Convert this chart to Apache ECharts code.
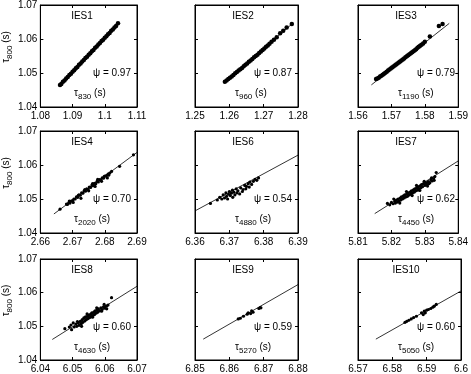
<!DOCTYPE html>
<html>
<head>
<meta charset="utf-8">
<script src="https://cdn.jsdelivr.net/npm/echarts@6/dist/echarts.min.js"></script>
<style>html,body{margin:0;padding:0;background:#fff}#c{width:471px;height:374px}</style>
</head>
<body>
<div id="c"></div>
<script>
const panelNames = ['IES1','IES2','IES3','IES4','IES6','IES7','IES8','IES9','IES10'];
const psiValues = ['0.97','0.87','0.79','0.70','0.54','0.62','0.60','0.59','0.60'];
const tauDepths = ['830','960','1190','2020','4880','4450','4630','5270','5050'];
const xMins = [1.08,1.25,1.56,2.66,6.36,5.81,6.04,6.85,6.57];
const xMaxs = [1.11,1.28,1.59,2.69,6.39,5.84,6.07,6.88,6.60];
const yMin = 1.04, yMax = 1.07, tickStep = 0.01;

const ies1 = [[1.0861,1.0465],[1.0865,1.0468],[1.0870,1.0474],[1.0875,1.0478],[1.0880,1.0484],[1.0885,1.0488],[1.0890,1.0494],[1.0895,1.0498],[1.0900,1.0504],[1.0905,1.0508],[1.0910,1.0514],[1.0915,1.0518],[1.0920,1.0524],[1.0925,1.0528],[1.0930,1.0534],[1.0935,1.0538],[1.0940,1.0544],[1.0945,1.0548],[1.0950,1.0554],[1.0955,1.0558],[1.0960,1.0564],[1.0965,1.0568],[1.0970,1.0574],[1.0975,1.0578],[1.0980,1.0584],[1.0985,1.0588],[1.0990,1.0594],[1.0995,1.0598],[1.1000,1.0604],[1.1005,1.0608],[1.1010,1.0614],[1.1015,1.0618],[1.1020,1.0624],[1.1025,1.0628],[1.1030,1.0634],[1.1035,1.0638],[1.1041,1.0646]];
const ies2 = [[1.2587,1.0474],[1.2592,1.0478],[1.2597,1.0482],[1.2602,1.0486],[1.2607,1.0490],[1.2612,1.0494],[1.2617,1.0499],[1.2622,1.0503],[1.2627,1.0507],[1.2632,1.0511],[1.2637,1.0515],[1.2642,1.0520],[1.2647,1.0524],[1.2652,1.0528],[1.2657,1.0533],[1.2662,1.0537],[1.2667,1.0541],[1.2672,1.0546],[1.2677,1.0550],[1.2682,1.0554],[1.2687,1.0559],[1.2692,1.0563],[1.2697,1.0568],[1.2702,1.0572],[1.2707,1.0577],[1.2712,1.0581],[1.2717,1.0586],[1.2723,1.0592],[1.2730,1.0598],[1.2738,1.0605],[1.2748,1.0617],[1.2757,1.0624],[1.2767,1.0634],[1.2782,1.0644]];
const ies3 = [[1.5654,1.0482],[1.5658,1.0484],[1.5662,1.0486],[1.5666,1.0490],[1.5670,1.0492],[1.5674,1.0495],[1.5678,1.0498],[1.5682,1.0501],[1.5686,1.0504],[1.5690,1.0507],[1.5694,1.0510],[1.5698,1.0513],[1.5702,1.0516],[1.5706,1.0519],[1.5710,1.0522],[1.5714,1.0525],[1.5718,1.0528],[1.5722,1.0531],[1.5726,1.0534],[1.5730,1.0537],[1.5734,1.0540],[1.5738,1.0543],[1.5742,1.0546],[1.5746,1.0549],[1.5750,1.0552],[1.5754,1.0555],[1.5758,1.0558],[1.5762,1.0561],[1.5766,1.0564],[1.5770,1.0567],[1.5774,1.0570],[1.5778,1.0574],[1.5782,1.0577],[1.5786,1.0580],[1.5790,1.0583],[1.5795,1.0587],[1.5800,1.0592],[1.5815,1.0607],[1.5842,1.0638],[1.5853,1.0644]];
const ies4 = [[2.6661,1.0470],[2.6681,1.0485],[2.6684,1.0484],[2.6688,1.0489],[2.6690,1.0494],[2.6692,1.0488],[2.6696,1.0494],[2.6700,1.0495],[2.6702,1.0490],[2.6704,1.0500],[2.6708,1.0500],[2.6712,1.0506],[2.6716,1.0505],[2.6718,1.0511],[2.6720,1.0512],[2.6724,1.0511],[2.6726,1.0502],[2.6728,1.0518],[2.6732,1.0517],[2.6736,1.0524],[2.6738,1.0528],[2.6740,1.0523],[2.6744,1.0530],[2.6748,1.0528],[2.6750,1.0524],[2.6752,1.0535],[2.6756,1.0534],[2.6760,1.0541],[2.6762,1.0545],[2.6764,1.0539],[2.6768,1.0546],[2.6770,1.0537],[2.6772,1.0545],[2.6776,1.0552],[2.6778,1.0558],[2.6780,1.0550],[2.6784,1.0557],[2.6788,1.0556],[2.6790,1.0552],[2.6792,1.0562],[2.6796,1.0561],[2.6798,1.0566],[2.6800,1.0567],[2.6805,1.0569],[2.6808,1.0562],[2.6810,1.0573],[2.6812,1.0570],[2.6815,1.0576],[2.6821,1.0581],[2.6846,1.0596],[2.6889,1.0630]];
const ies6 = [[6.3645,1.0487],[6.3665,1.0497],[6.3672,1.0505],[6.3678,1.0500],[6.3682,1.0512],[6.3686,1.0503],[6.3690,1.0518],[6.3692,1.0508],[6.3695,1.0500],[6.3698,1.0514],[6.3700,1.0522],[6.3703,1.0510],[6.3706,1.0517],[6.3709,1.0526],[6.3710,1.0505],[6.3713,1.0520],[6.3716,1.0512],[6.3720,1.0530],[6.3722,1.0518],[6.3725,1.0524],[6.3730,1.0515],[6.3733,1.0533],[6.3738,1.0522],[6.3740,1.0528],[6.3745,1.0540],[6.3748,1.0530],[6.3750,1.0537],[6.3755,1.0545],[6.3758,1.0535],[6.3760,1.0550],[6.3765,1.0543],[6.3770,1.0552],[6.3775,1.0558],[6.3780,1.0555],[6.3785,1.0562]];
const ies7 = [[5.8188,1.0487],[5.8195,1.0483],[5.8200,1.0490],[5.8205,1.0486],[5.8207,1.0500],[5.8210,1.0494],[5.8212,1.0488],[5.8215,1.0497],[5.8218,1.0491],[5.8220,1.0500],[5.8223,1.0494],[5.8225,1.0488],[5.8226,1.0503],[5.8228,1.0497],[5.8230,1.0506],[5.8233,1.0500],[5.8236,1.0509],[5.8238,1.0503],[5.8240,1.0512],[5.8243,1.0506],[5.8245,1.0522],[5.8246,1.0515],[5.8248,1.0508],[5.8250,1.0518],[5.8253,1.0512],[5.8256,1.0520],[5.8258,1.0514],[5.8260,1.0524],[5.8262,1.0510],[5.8263,1.0518],[5.8266,1.0527],[5.8268,1.0520],[5.8270,1.0530],[5.8273,1.0524],[5.8275,1.0540],[5.8276,1.0533],[5.8278,1.0526],[5.8280,1.0536],[5.8283,1.0530],[5.8285,1.0525],[5.8286,1.0539],[5.8288,1.0533],[5.8290,1.0542],[5.8293,1.0536],[5.8296,1.0545],[5.8298,1.0552],[5.8300,1.0540],[5.8303,1.0548],[5.8306,1.0543],[5.8308,1.0538],[5.8310,1.0551],[5.8312,1.0545],[5.8315,1.0548],[5.8318,1.0556],[5.8320,1.0562],[5.8322,1.0553],[5.8326,1.0560],[5.8328,1.0555],[5.8330,1.0566],[5.8334,1.0578]];
const ies8 = [[6.0476,1.0493],[6.0490,1.0498],[6.0495,1.0504],[6.0497,1.0490],[6.0502,1.0510],[6.0505,1.0498],[6.0510,1.0507],[6.0513,1.0500],[6.0515,1.0514],[6.0518,1.0510],[6.0520,1.0503],[6.0524,1.0515],[6.0527,1.0508],[6.0528,1.0500],[6.0530,1.0520],[6.0532,1.0512],[6.0535,1.0525],[6.0538,1.0516],[6.0540,1.0528],[6.0543,1.0520],[6.0545,1.0537],[6.0546,1.0530],[6.0548,1.0523],[6.0550,1.0533],[6.0553,1.0526],[6.0556,1.0536],[6.0558,1.0529],[6.0560,1.0540],[6.0562,1.0527],[6.0563,1.0532],[6.0566,1.0542],[6.0568,1.0535],[6.0570,1.0546],[6.0573,1.0539],[6.0575,1.0555],[6.0576,1.0549],[6.0578,1.0542],[6.0580,1.0552],[6.0584,1.0546],[6.0588,1.0555],[6.0590,1.0545],[6.0592,1.0550],[6.0596,1.0558],[6.0598,1.0565],[6.0600,1.0554],[6.0605,1.0560],[6.0606,1.0552],[6.0610,1.0563],[6.0621,1.0585]];
const ies9 = [[6.8626,1.0522],[6.8632,1.0524],[6.8641,1.0530],[6.8652,1.0536],[6.8655,1.0540],[6.8662,1.0538],[6.8665,1.0546],[6.8669,1.0542],[6.8686,1.0553],[6.8690,1.0556],[6.8692,1.0555]];
const ies10 = [[6.5837,1.0512],[6.5842,1.0515],[6.5848,1.0518],[6.5855,1.0522],[6.5862,1.0526],[6.5870,1.0530],[6.5885,1.0540],[6.5890,1.0535],[6.5893,1.0545],[6.5896,1.0540],[6.5900,1.0548],[6.5905,1.0550],[6.5912,1.0553],[6.5918,1.0557],[6.5922,1.0560],[6.5928,1.0565]];
const scatterData = [ies1, ies2, ies3, ies4, ies6, ies7, ies8, ies9, ies10];

const fitLines = [
  [[1.0861,1.0465],[1.1041,1.0646]],
  [[1.2585,1.0470],[1.2782,1.0644]],
  [[1.5640,1.0465],[1.5873,1.0646]],
  [[2.6642,1.0456],[2.6900,1.0637]],
  [[6.3600,1.0465],[6.3900,1.0629]],
  [[5.8150,1.0457],[5.8400,1.0612]],
  [[6.0437,1.0461],[6.0700,1.0619]],
  [[6.8524,1.0462],[6.8800,1.0624]],
  [[6.5752,1.0462],[6.6000,1.0605]]
];

const colLefts = [34, 195, 358];
const rowTops = [5, 131, 259];
const gw = 103, gh = 102;
const FONT = '"Liberation Sans", Arial, Helvetica, sans-serif';

const fmt = v => String(parseFloat(Number(v).toFixed(2)));
const tauRich = {
  t: {fontSize: 10, fontFamily: FONT, color: '#000', padding: [0,0,4,0]},
  s: {fontSize: 8, fontFamily: FONT, color: '#000', padding: [4,0,0,0]}
};
const tauRichAxis = {
  t: {fontSize: 10, fontFamily: FONT, color: '#000', padding: [0,0,4,0]},
  s: {fontSize: 8, fontFamily: FONT, color: '#000', padding: [4,0,0,0]},
  g: {fontSize: 10, fontFamily: FONT, color: '#fff', width: 18}
};

const grids = [], xAxes = [], yAxes = [], series = [], graphics = [];
for (let i = 0; i < 9; i++) {
  const r = Math.floor(i / 3), c = i % 3;
  const L = colLefts[c], T = rowTops[r];
  grids.push({left: L, top: T, width: gw, height: gh, show: true, borderColor: '#000', borderWidth: 1, backgroundColor: '#fff'});
  const common = {interval: tickStep, splitLine: {show: false},
    axisLine: {show: true, onZero: false, lineStyle: {color: '#000', width: 1}},
    axisTick: {show: true, inside: true, length: 3, lineStyle: {color: '#000'}}};
  xAxes.push(Object.assign({}, common, {type: 'value', gridIndex: i, position: 'bottom', min: xMins[i], max: xMaxs[i],
    axisLabel: {show: true, margin: 4, color: '#000', fontSize: 10, fontFamily: FONT, formatter: fmt, showMinLabel: true, showMaxLabel: true}}));
  xAxes.push(Object.assign({}, common, {type: 'value', gridIndex: i, position: 'top', min: xMins[i], max: xMaxs[i], axisLabel: {show: false}}));
  const yLeft = Object.assign({}, common, {type: 'value', gridIndex: i, position: 'left', min: yMin, max: yMax,
    axisLabel: {show: c === 0, margin: 3, color: '#000', fontSize: 10, fontFamily: FONT, formatter: fmt, showMinLabel: true, showMaxLabel: true}});
  if (c === 0) {
    yLeft.name = '{g|.}{t|τ}{s|800}{t| (s)}';
    yLeft.nameLocation = 'middle';
    yLeft.nameRotate = 90;
    yLeft.nameGap = 24;
    yLeft.nameTextStyle = {rich: tauRichAxis};
  }
  yAxes.push(yLeft);
  yAxes.push(Object.assign({}, common, {type: 'value', gridIndex: i, position: 'right', min: yMin, max: yMax, axisLabel: {show: false}}));
  series.push({type: 'line', xAxisIndex: 2*i, yAxisIndex: 2*i, data: fitLines[i], symbol: 'none', silent: true,
    lineStyle: {color: '#000', width: 0.8}, animation: false});
  series.push({type: 'scatter', xAxisIndex: 2*i, yAxisIndex: 2*i, data: scatterData[i], symbol: 'circle',
    symbolSize: i < 3 ? 4.5 : 3.2, itemStyle: {color: '#000', opacity: 1}, animation: false});
  graphics.push({type: 'text', x: L + 48, y: T + 11, z: 10,
    style: {text: panelNames[i], fill: '#000', fontSize: 10, fontFamily: FONT, align: 'center', verticalAlign: 'middle', textAlign: 'center', textVerticalAlign: 'middle'}});
  graphics.push({type: 'text', x: L + 59, y: T + 68, z: 10,
    style: {text: 'ψ = ' + psiValues[i], fill: '#000', fontSize: 10, fontFamily: FONT, align: 'left', verticalAlign: 'middle', textAlign: 'left', textVerticalAlign: 'middle'}});
  graphics.push({type: 'text', x: L + 40, y: T + 90, z: 10,
    style: {text: '{t|τ}{s|' + tauDepths[i] + '}{t| (s)}', rich: tauRich, fill: '#000', fontSize: 10, fontFamily: FONT, align: 'left', verticalAlign: 'middle', textAlign: 'left', textVerticalAlign: 'middle'}});
}

const chart = echarts.init(document.getElementById('c'), null, {renderer: 'canvas'});
chart.setOption({
  animation: false,
  backgroundColor: '#fff',
  grid: grids,
  xAxis: xAxes,
  yAxis: yAxes,
  series: series,
  graphic: graphics
});
</script>
</body>
</html>
